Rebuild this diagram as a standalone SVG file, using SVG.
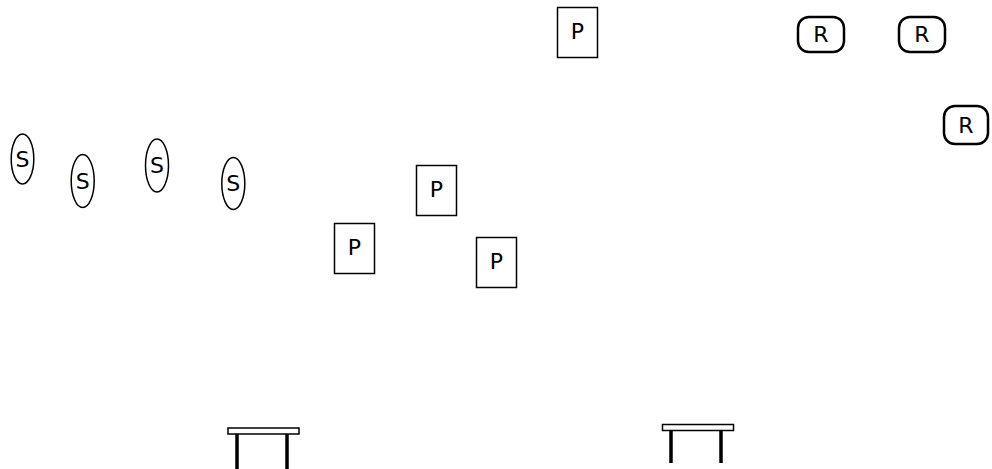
<svg xmlns="http://www.w3.org/2000/svg" width="992" height="469" viewBox="0 0 992 469">
<style>
.s{fill:#fff;stroke:#000;stroke-width:1.5}
.p{fill:#fff;stroke:#000;stroke-width:1.5}
.r{fill:#fff;stroke:#000;stroke-width:2.5}
.t{font-family:"DejaVu Sans","Liberation Sans",sans-serif;font-size:22px;fill:#000;text-anchor:middle;dominant-baseline:central}
.top{fill:#fff;stroke:#000;stroke-width:1.5}
.leg{stroke:#000;stroke-width:3.5}
</style>
<rect width="992" height="469" fill="#fff"/>
<g id="s1"><ellipse class="s" cx="22.5" cy="159" rx="11.3" ry="25"/><text class="t" x="22.5" y="159">S</text></g>
<g id="s2"><ellipse class="s" cx="82.7" cy="181" rx="11.5" ry="26.5"/><text class="t" x="82.7" y="181">S</text></g>
<g id="s3"><ellipse class="s" cx="157" cy="165.5" rx="11.5" ry="26.5"/><text class="t" x="157" y="165.5">S</text></g>
<g id="s4"><ellipse class="s" cx="233.3" cy="183.5" rx="11.5" ry="26"/><text class="t" x="233.3" y="183.5">S</text></g>
<g id="p1"><rect class="p" x="557.5" y="7.5" width="40" height="50"/><text class="t" x="577.5" y="31">P</text></g>
<g id="p2"><rect class="p" x="416.5" y="165.5" width="40" height="50"/><text class="t" x="436.5" y="189">P</text></g>
<g id="p3"><rect class="p" x="334.5" y="223.5" width="40" height="50"/><text class="t" x="354.5" y="247">P</text></g>
<g id="p4"><rect class="p" x="476.5" y="237.5" width="40" height="50"/><text class="t" x="496.5" y="261">P</text></g>
<g id="r1"><rect class="r" x="798" y="17" width="46" height="35" rx="11"/><text class="t" x="821" y="34.5">R</text></g>
<g id="r2"><rect class="r" x="899" y="17" width="46" height="35" rx="11"/><text class="t" x="922" y="34.5">R</text></g>
<g id="r3"><rect class="r" x="944" y="106" width="44" height="38" rx="11"/><text class="t" x="966" y="125">R</text></g>
<g id="table1"><line class="leg" x1="237" y1="431" x2="237" y2="469"/><line class="leg" x1="287" y1="431" x2="287" y2="469"/><rect class="top" x="228" y="428" width="71" height="6"/></g>
<g id="table2"><line class="leg" x1="671" y1="428" x2="671" y2="463"/><line class="leg" x1="721" y1="428" x2="721" y2="463"/><rect class="top" x="662.5" y="424.5" width="71" height="6"/></g>
<g id="connectors"></g>
</svg>
